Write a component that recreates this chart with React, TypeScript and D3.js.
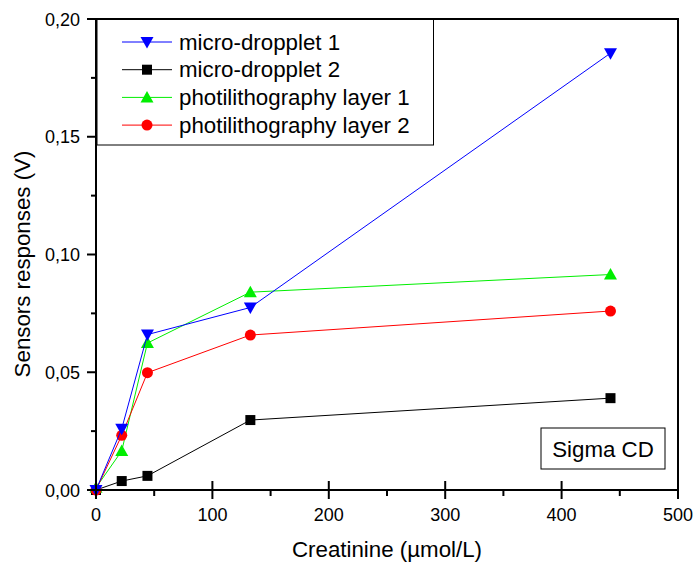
import React from "react";
import * as d3 from "d3";

const concentrations = [0, 22.1, 44.2, 132.6, 442];
const seriesNames = ["micro-dropplet 1", "micro-dropplet 2", "photilithography layer 1", "photilithography layer 2"];
const microDroplet1 = [0.0, 0.026, 0.066, 0.0775, 0.1855];
const microDroplet2 = [0.0, 0.0038, 0.006, 0.0297, 0.039];
const photoLayer1 = [0.001, 0.0166, 0.0624, 0.084, 0.0915];
const photoLayer2 = [0.0, 0.0232, 0.0498, 0.0658, 0.076];
const seriesColors = ["#0000ff", "#000000", "#00ee00", "#ff0000"];
const seriesMarkers = ["triangleDown", "square", "triangleUp", "circle"];
const xTicks = [0, 100, 200, 300, 400, 500];
const yTicks = [0, 0.05, 0.1, 0.15, 0.2];

const FONT = "'Liberation Sans', Arial, sans-serif";

function Marker({ type, x, y, color }: { type: string; x: number; y: number; color: string }) {
  if (type === "square") return <rect x={x - 5} y={y - 5} width={10} height={10} fill={color} />;
  if (type === "circle") return <circle cx={x} cy={y} r={5.5} fill={color} />;
  if (type === "triangleUp")
    return <path d={`M${x},${y - 6.5}L${x + 6.5},${y + 5}L${x - 6.5},${y + 5}Z`} fill={color} />;
  return <path d={`M${x},${y + 6.5}L${x + 6.5},${y - 5}L${x - 6.5},${y - 5}Z`} fill={color} />;
}

export default function App() {
  const W = 694, H = 562;
  const x = d3.scaleLinear().domain([0, 500]).range([96, 678]);
  const y = d3.scaleLinear().domain([0, 0.2]).range([490, 19]);
  const data = [microDroplet1, microDroplet2, photoLayer1, photoLayer2];
  const drawOrder = [1, 2, 3, 0];
  const line = d3.line<number>().x((_, i) => x(concentrations[i])).y((d) => y(d));
  const xMinor = d3.range(50, 500, 100);
  const yMinor = [0.025, 0.075, 0.125, 0.175];
  const fmt = (v: number) => v.toFixed(2).replace(".", ",");

  return (
    <svg width={W} height={H} style={{ position: "absolute", left: 0, top: 0 }} fontFamily={FONT}>
      <rect width={W} height={H} fill="#fff" />
      {drawOrder.map((si) => (
        <g key={si}>
          <path d={line(data[si]) || ""} fill="none" stroke={seriesColors[si]} strokeWidth={1} />
          {data[si].map((v, i) => (
            <Marker key={i} type={seriesMarkers[si]} x={x(concentrations[i])} y={y(v)} color={seriesColors[si]} />
          ))}
        </g>
      ))}
      {/* frame */}
      <rect x={96} y={19} width={582} height={471} fill="none" stroke="#000" strokeWidth={2} />
      {/* x ticks */}
      {xTicks.map((t) => (
        <g key={t}>
          <line x1={x(t)} x2={x(t)} y1={481} y2={499} stroke="#000" strokeWidth={2} />
          <text x={x(t)} y={521} fontSize={18} textAnchor="middle">{t}</text>
        </g>
      ))}
      {xMinor.map((t) => (
        <line key={t} x1={x(t)} x2={x(t)} y1={490} y2={496} stroke="#000" strokeWidth={2} />
      ))}
      {yTicks.map((t) => (
        <g key={t}>
          <line x1={87} x2={96} y1={y(t)} y2={y(t)} stroke="#000" strokeWidth={2} />
          <text x={80} y={y(t) + 6.5} fontSize={18} textAnchor="end">{fmt(t)}</text>
        </g>
      ))}
      {yMinor.map((t) => (
        <line key={t} x1={91} x2={96} y1={y(t)} y2={y(t)} stroke="#000" strokeWidth={2} />
      ))}
      {/* legend */}
      <rect x={97} y={19.5} width={336.5} height={125.5} fill="#fff" stroke="#000" strokeWidth={1} />
      {seriesNames.map((n, i) => {
        const ly = 42 + i * 27.7;
        return (
          <g key={n}>
            <line x1={122} x2={172} y1={ly} y2={ly} stroke={seriesColors[i]} strokeWidth={1} />
            <Marker type={seriesMarkers[i]} x={147} y={ly} color={seriesColors[i]} />
            <text x={179} y={ly + 7.5} fontSize={22.3}>{n}</text>
          </g>
        );
      })}
      {/* annotation */}
      <rect x={541} y={428} width={124} height={41} fill="#fff" stroke="#000" strokeWidth={1} />
      <text x={603} y={456.5} fontSize={22.3} textAnchor="middle">Sigma CD</text>
      {/* axis titles */}
      <text x={387} y={557} fontSize={22.3} textAnchor="middle">Creatinine (µmol/L)</text>
      <text transform="translate(30,264) rotate(-90)" fontSize={22.3} textAnchor="middle">Sensors responses (V)</text>
    </svg>
  );
}
